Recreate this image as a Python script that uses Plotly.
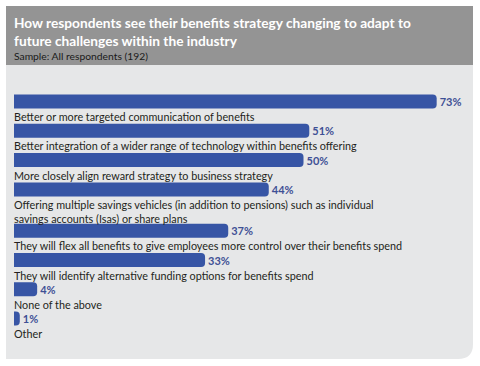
import plotly.graph_objects as go

W, H = 480, 366

categories = [
    "Better or more targeted communication of benefits",
    "Better integration of a wider range of technology within benefits offering",
    "More closely align reward strategy to business strategy",
    "Offering multiple savings vehicles (in addition to pensions) such as individual<br>savings accounts (Isas) or share plans",
    "They will flex all benefits to give employees more control over their benefits spend",
    "They will identify alternative funding options for benefits spend",
    "None of the above",
    "Other",
]
values = [73, 51, 50, 44, 37, 33, 4, 1]

title_text = ("How respondents see their benefits strategy changing to adapt to<br>"
              "future challenges within the industry")
subtitle_text = "Sample: All respondents (192)"

# layout helpers (pixel -> paper)
def px(x):
    return x / W

def py(y):
    return 1 - y / H

PX_PER_PCT = 5.79
LEFT = 14

# vertical positions of bars derived from label line counts
positions = []
y = 101.5
for i, c in enumerate(categories):
    positions.append(y)
    lines = c.count("<br>") + 1
    y += 29.3 + (lines - 1) * 12

BAR = "#3755a5"
VAL = "#3e5095"
TXT = "#231f20"
FONT = "Lato"

fig = go.Figure()
fig.add_trace(go.Bar(
    x=values, y=positions, orientation="h", width=14,
    marker=dict(color=BAR, line=dict(width=0)),
    text=[f"{v}%" for v in values], textposition="outside",
    textfont=dict(family=FONT, size=11, color=VAL, weight="bold"),
    cliponaxis=False, hoverinfo="skip",
))

# panel shapes
r = 15
x0, x1, yh0, yh1, yb = 6, 473, 6, 65, 359
path = (f"M {px(x0)},{py(yh1)} L {px(x1)},{py(yh1)} L {px(x1)},{py(yb - r)} "
        f"Q {px(x1)},{py(yb)} {px(x1 - r)},{py(yb)} L {px(x0)},{py(yb)} Z")
shapes = [
    dict(type="path", path=path, xref="paper", yref="paper",
         fillcolor="#e6e7e8", line=dict(width=0), layer="below"),
    dict(type="rect", x0=px(x0), x1=px(x1), y0=py(yh1), y1=py(yh0),
         xref="paper", yref="paper", fillcolor="#949494",
         line=dict(width=0), layer="below"),
]

annotations = [
    dict(text=f"<b>{title_text}</b>", x=px(LEFT - 1), y=py(13), xref="paper", yref="paper",
         xanchor="left", yanchor="top", showarrow=False, align="left", borderpad=0,
         font=dict(family=FONT, size=13.7, color="white")),
    dict(text=subtitle_text, x=px(LEFT - 1), y=py(55.5), xref="paper", yref="paper",
         xanchor="left", yanchor="middle", showarrow=False, align="left", borderpad=0,
         font=dict(family=FONT, size=10.3, color="#1a1a1a")),
]
for c, p in zip(categories, positions):
    annotations.append(dict(
        text=c, x=-2 / PX_PER_PCT, y=p + 6.5, xref="x", yref="y",
        xanchor="left", yanchor="top", showarrow=False, align="left",
        font=dict(family=FONT, size=10.8, color=TXT),
    ))

fig.update_layout(
    width=W, height=H,
    margin=dict(l=0, r=0, t=0, b=0),
    paper_bgcolor="white", plot_bgcolor="rgba(0,0,0,0)",
    barcornerradius=4,
    xaxis=dict(range=[-LEFT / PX_PER_PCT, (W - LEFT) / PX_PER_PCT], visible=False, fixedrange=True),
    yaxis=dict(range=[H, 0], visible=False, fixedrange=True),
    showlegend=False,
    shapes=shapes,
    annotations=annotations,
)

fig.write_html("out.html", config={"displayModeBar": False},
               post_script="document.body.style.margin='0';")
